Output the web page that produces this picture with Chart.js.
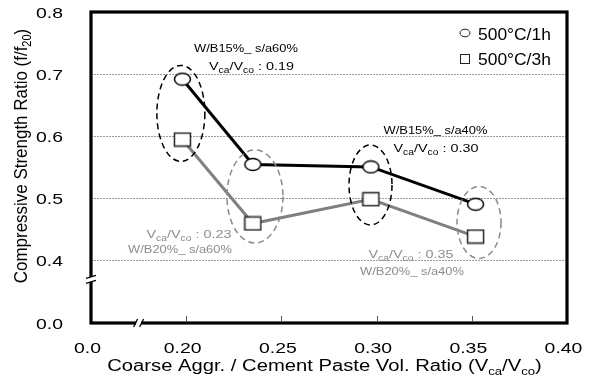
<!DOCTYPE html>
<html>
<head>
<meta charset="utf-8">
<script src="https://cdn.jsdelivr.net/npm/chart.js@4.4.1/dist/chart.umd.min.js"></script>
<style>
    html, body { margin: 0; padding: 0; background: #fff; }
    #wrap { width: 592px; height: 382px; }
</style>
</head>
<body>
<div id="wrap"><canvas id="chart" width="592" height="382"></canvas></div>
<script>
// Vca/Vco of each mix and the strength ratio after heating
const vcaVco = [0.198, 0.235, 0.297, 0.352];
const ratio1h = [0.692, 0.555, 0.551, 0.491];
const ratio3h = [0.595, 0.460, 0.499, 0.439];
const seriesNames = ['500°C/1h', '500°C/3h'];

// broken axes: the first tick stands for 0.0
const xTickValues = [0.15, 0.20, 0.25, 0.30, 0.35, 0.40];
const xTickLabels = ['0.0', '0.20', '0.25', '0.30', '0.35', '0.40'];
const yTickValues = [0.3, 0.4, 0.5, 0.6, 0.7, 0.8];
const yTickLabels = ['0.0', '0.4', '0.5', '0.6', '0.7', '0.8'];

// mix groups marked on the chart
const mixNames = ['W/B15%_ s/a60%', 'W/B20%_ s/a60%', 'W/B15%_ s/a40%', 'W/B20%_ s/a40%'];
const mixRatios = ['0.19', '0.23', '0.30', '0.35'];

const FONT = 'Arial, "Liberation Sans", sans-serif';
const GRAY = '#808080';

// text with _{sub} parts, optionally stretched
function drawText(ctx, str, x, y, o) {
    const parts = str.split(/_\{([^}]*)\}/);
    const size = o.size;
    const subSize = size * (o.subScale || 0.65);
    ctx.save();
    ctx.translate(x, y);
    if (o.rotate) ctx.rotate(o.rotate);
    ctx.scale(o.sx || 1, o.sy || 1);
    let w = 0;
    parts.forEach((p, i) => {
        ctx.font = (i % 2 ? subSize : size) + 'px ' + FONT;
        w += ctx.measureText(p).width;
    });
    let cx = o.align === 'center' ? -w / 2 : (o.align === 'right' ? -w : 0);
    const base = size * 0.36;
    ctx.fillStyle = o.color || '#000';
    ctx.textBaseline = 'alphabetic';
    parts.forEach((p, i) => {
        const sub = i % 2 === 1;
        ctx.font = (sub ? subSize : size) + 'px ' + FONT;
        ctx.fillText(p, cx, base + (sub ? size * 0.22 : 0));
        cx += ctx.measureText(p).width;
    });
    ctx.restore();
}

function makeMarker(kind) {
    const c = document.createElement('canvas');
    c.width = 19;
    c.height = kind === 'circle' ? 15 : 16;
    const g = c.getContext('2d');
    g.fillStyle = '#fff';
    g.lineWidth = 1.5;
    g.strokeStyle = kind === 'circle' ? '#000' : '#222';
    g.beginPath();
    if (kind === 'circle') g.ellipse(9.5, 7.5, 8, 6, 0, 0, Math.PI * 2);
    else g.rect(1.5, 1.5, 16, 13);
    g.fill();
    g.stroke();
    return c;
}

const decor = {
    id: 'decor',
    afterDatasetsDraw(chart) {
        const ctx = chart.ctx;
        const xs = chart.scales.x, ys = chart.scales.y;
        // dashed groups: [x, y, rx, ry, colour]
        const rings = [
            [0.1972, 0.637, 24, 48, '#000'],
            [0.2361, 0.5034, 28, 46.5, '#8a8a8a'],
            [0.2968, 0.5219, 21.5, 40, '#000'],
            [0.3538, 0.4616, 22, 36, '#8a8a8a']
        ];
        ctx.save();
        ctx.lineWidth = 1.5;
        ctx.setLineDash([6, 4]);
        rings.forEach(r => {
            ctx.strokeStyle = r[4];
            ctx.beginPath();
            ctx.ellipse(xs.getPixelForValue(r[0]), ys.getPixelForValue(r[1]), r[2], r[3], 0, 0, Math.PI * 2);
            ctx.stroke();
        });
        ctx.restore();
    },
    afterDraw(chart) {
        const ctx = chart.ctx;
        const a = chart.chartArea;
        const xs = chart.scales.x, ys = chart.scales.y;

        // frame
        ctx.save();
        ctx.strokeStyle = '#000';
        ctx.lineWidth = 3.2;
        ctx.strokeRect(a.left, a.top, a.right - a.left, a.bottom - a.top);

        // inward ticks on x
        ctx.lineWidth = 1;
        ctx.strokeStyle = '#555';
        xTickValues.slice(1, -1).forEach(v => {
            const px = Math.round(xs.getPixelForValue(v)) + 0.5;
            ctx.beginPath();
            ctx.moveTo(px, a.bottom - 1.5);
            ctx.lineTo(px, a.bottom - 7);
            ctx.stroke();
        });

        // axis breaks
        const by = ys.getPixelForValue(0.37);
        const bx = xs.getPixelForValue(0.175);
        ctx.fillStyle = '#fff';
        ctx.fillRect(a.left - 3, by - 2.5, 6, 5);
        ctx.fillRect(bx - 2.5, a.bottom - 3, 5, 6);
        ctx.strokeStyle = '#000';
        ctx.lineWidth = 1.3;
        ctx.beginPath();
        ctx.moveTo(a.left - 5, by - 1); ctx.lineTo(a.left + 5, by - 4);
        ctx.moveTo(a.left - 5, by + 4); ctx.lineTo(a.left + 5, by + 1);
        ctx.moveTo(bx - 5, a.bottom + 4); ctx.lineTo(bx - 1, a.bottom - 4);
        ctx.moveTo(bx + 1, a.bottom + 4); ctx.lineTo(bx + 5, a.bottom - 4);
        ctx.stroke();
        ctx.restore();

        // tick labels
        const tick = { size: 15.3, sx: 1.27 };
        yTickValues.forEach((v, i) => {
            drawText(ctx, yTickLabels[i], 63, ys.getPixelForValue(v), Object.assign({ align: 'right' }, tick));
        });
        xTickValues.forEach((v, i) => {
            drawText(ctx, xTickLabels[i], xs.getPixelForValue(v) - 3.5, 347, Object.assign({ align: 'center' }, tick));
        });

        // axis titles
        drawText(ctx, 'Coarse Aggr. / Cement Paste Vol. Ratio (V_{ca}/V_{co})', 324.5, 365.5,
            { size: 15.8, sx: 1.28, align: 'center' });
        drawText(ctx, 'Compressive Strength Ratio (f/f_{20})', 20, 156,
            { size: 16, sx: 1.06, sy: 1.15, align: 'center', rotate: -Math.PI / 2 });

        // group notes: [mix index, x, y of name, y of ratio]
        const notes = [
            [0, 246, 48, 66, '#000', 251.5],
            [2, 435.5, 129.5, 148, '#000', 436],
            [1, 180, 249, 234, '#8c8c8c', 189],
            [3, 412, 271, 254, '#8c8c8c', 411]
        ];
        notes.forEach(n => {
            drawText(ctx, mixNames[n[0]], n[1], n[2], { size: 11.5, sx: 1.12, align: 'center', color: n[4] });
            drawText(ctx, 'V_{ca}/V_{co} : ' + mixRatios[n[0]], n[5], n[3],
                { size: 11.5, sx: 1.25, subScale: 0.72, align: 'center', color: n[4] });
        });

        // legend
        ctx.save();
        ctx.fillStyle = '#fff';
        ctx.strokeStyle = '#222';
        ctx.lineWidth = 1;
        ctx.beginPath();
        ctx.ellipse(465, 33, 5, 3.8, 0, 0, Math.PI * 2);
        ctx.fill(); ctx.stroke();
        ctx.strokeRect(460.5, 54.5, 9, 9);
        ctx.restore();
        drawText(ctx, seriesNames[0], 478, 34, { size: 16.3, sx: 1.07 });
        drawText(ctx, seriesNames[1], 478, 59.5, { size: 16.3, sx: 1.07 });
    }
};

const chart = new Chart(document.getElementById('chart'), {
    type: 'scatter',
    data: {
        datasets: [{
            label: seriesNames[0],
            data: vcaVco.map((x, i) => ({ x: x, y: ratio1h[i] })),
            showLine: true,
            borderColor: '#000',
            borderWidth: 3,
            pointStyle: makeMarker('circle'),
            pointRadius: 8
        }, {
            label: seriesNames[1],
            data: vcaVco.map((x, i) => ({ x: x, y: ratio3h[i] })),
            showLine: true,
            borderColor: GRAY,
            borderWidth: 3,
            pointStyle: makeMarker('square'),
            pointRadius: 8
        }]
    },
    options: {
        responsive: false,
        animation: false,
        devicePixelRatio: 1,
        layout: { padding: { left: 0, top: 12, right: 25, bottom: 0 } },
        plugins: { legend: { display: false }, tooltip: { enabled: false } },
        scales: {
            x: {
                type: 'linear',
                min: 0.15,
                max: 0.40,
                afterBuildTicks: s => { s.ticks = xTickValues.map(v => ({ value: v })); },
                afterFit: s => { s.height = 59; },
                ticks: { display: false },
                grid: { display: false },
                border: { display: false }
            },
            y: {
                type: 'linear',
                min: 0.3,
                max: 0.8,
                afterBuildTicks: s => { s.ticks = yTickValues.map(v => ({ value: v })); },
                afterFit: s => { s.width = 91; },
                ticks: { display: false },
                grid: {
                    drawTicks: false,
                    lineWidth: 1,
                    color: c => (c.tick && c.tick.value > 0.35 && c.tick.value < 0.75) ? '#9a9a9a' : 'rgba(0,0,0,0)'
                },
                border: { display: false, dash: [2, 1] }
            }
        }
    },
    plugins: [decor]
});
</script>
</body>
</html>
